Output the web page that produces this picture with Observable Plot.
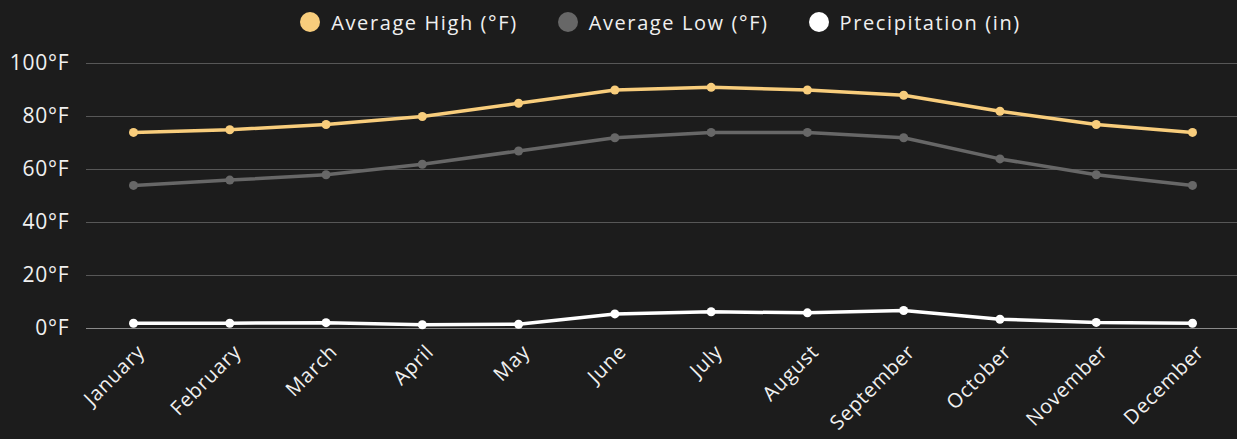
<!DOCTYPE html>
<html>
<head>
<meta charset="utf-8">
<script src="https://cdn.jsdelivr.net/npm/d3@7"></script>
<script src="https://cdn.jsdelivr.net/npm/@observablehq/plot@0.6"></script>
<style>
  html, body { margin: 0; padding: 0; background: #1c1c1c; width: 1237px; height: 439px; overflow: hidden; }
  body { font-family: "Open Sans", sans-serif; color: #f0f0f0; }
  #legend { height: 44px; display: flex; justify-content: center; align-items: center; font-size: 20px; letter-spacing: 1.6px; padding-left: 84px; box-sizing: border-box; }
  .item { display: flex; align-items: center; margin: 0 20px; }
  .sw { width: 20px; height: 20px; border-radius: 50%; margin-right: 11px; }
  svg text { letter-spacing: 0.8px; }
</style>
</head>
<body>
<div id="legend"></div>
<div id="chart"></div>
<script>
const months = ["January","February","March","April","May","June","July","August","September","October","November","December"];
const avgHigh = [74, 75, 77, 80, 85, 90, 91, 90, 88, 82, 77, 74];
const avgLow = [54, 56, 58, 62, 67, 72, 74, 74, 72, 64, 58, 54];
const precip = [2.0, 2.0, 2.2, 1.4, 1.6, 5.5, 6.3, 5.9, 6.8, 3.5, 2.3, 2.0];
const seriesNames = ["Average High (°F)", "Average Low (°F)", "Precipitation (in)"];
const seriesColors = ["#f8cd7c", "#676767", "#ffffff"];
const yTicks = [0, 20, 40, 60, 80, 100];

const seriesValues = [avgHigh, avgLow, precip];
const data = [];
seriesValues.forEach((vals, s) => vals.forEach((v, i) => data.push({month: months[i], value: v, series: seriesNames[s]})));

const legend = document.getElementById("legend");
seriesNames.forEach((n, i) => {
  const it = document.createElement("div");
  it.className = "item";
  it.innerHTML = `<span class="sw" style="background:${seriesColors[i]}"></span><span>${n}</span>`;
  legend.appendChild(it);
});

const chart = Plot.plot({
  width: 1237,
  height: 395,
  marginLeft: 86,
  marginRight: 0,
  marginTop: 19,
  marginBottom: 111,
  style: {background: "transparent", color: "#f0f0f0", fontFamily: "'Open Sans', sans-serif", fontSize: "17px"},
  x: {type: "point", domain: months, range: [133, 1192], padding: 0, round: false, label: null},
  y: {domain: [0, 100], label: null},
  color: {domain: seriesNames, range: seriesColors},
  marks: [
    Plot.ruleY(yTicks, {stroke: "#575757", strokeWidth: 1}),
    Plot.ruleY([0], {stroke: "#8a8a8a", strokeWidth: 1}),
    Plot.axisY(yTicks, {tickSize: 0, tickPadding: 17, tickFormat: d => d + "°F", fontSize: 21, fill: "#f0f0f0"}),
    Plot.axisX({tickSize: 0, tickRotate: -45, tickPadding: 20, fontSize: 20, fill: "#f0f0f0", dx: 8}),
    Plot.line(data, {x: "month", y: "value", z: "series", stroke: "series", strokeWidth: 3.5}),
    Plot.dot(data, {x: "month", y: "value", fill: "series", r: 4.5})
  ]
});
document.getElementById("chart").appendChild(chart);
</script>
</body>
</html>
